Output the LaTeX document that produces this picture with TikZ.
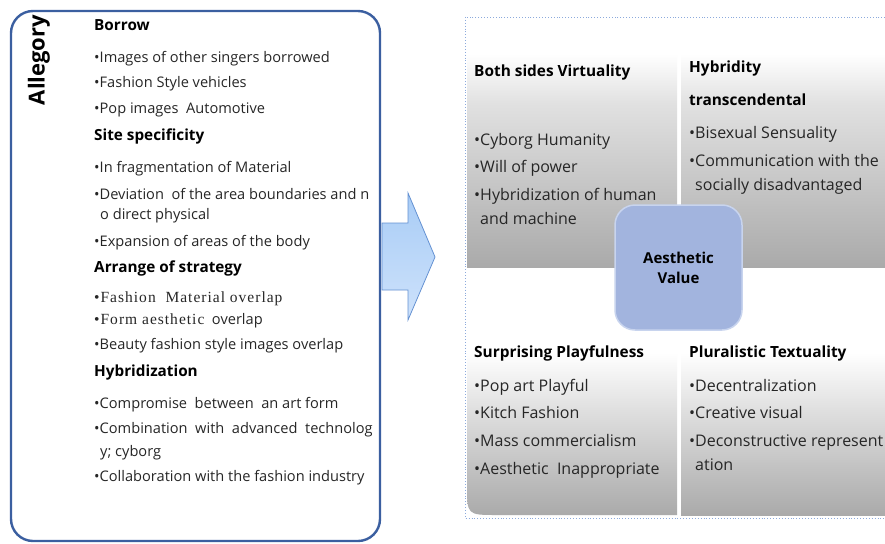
\documentclass[tikz,border=0pt]{standalone}
\usepackage{fontspec}
\setmainfont{Open Sans}
\newfontfamily\serifx[LetterSpace=6.5]{Liberation Serif}
\definecolor{boxblue}{RGB}{59,95,160}
\definecolor{arrowline}{RGB}{100,145,210}
\definecolor{arrowtop}{RGB}{168,204,246}
\definecolor{arrowbot}{RGB}{206,226,251}
\definecolor{dotblue}{RGB}{140,170,220}
\definecolor{centerfill}{RGB}{162,180,222}
\definecolor{centerline}{RGB}{200,212,238}
\definecolor{qdark}{RGB}{170,170,170}
\definecolor{qmid}{RGB}{225,225,225}
\pgfdeclareverticalshading{quadshade}{100bp}{color(0bp)=(qdark); color(25bp)=(qdark); color(58bp)=(qmid); color(68bp)=(white); color(100bp)=(white)}
\pgfdeclareverticalshading{quadshadeb}{100bp}{color(0bp)=(qdark); color(25bp)=(qdark); color(55bp)=(qmid); color(70bp)=(white); color(100bp)=(white)}
\newcommand\fsz[1]{\fontsize{#1}{#1}\selectfont}
\begin{document}
\begin{tikzpicture}[x=1pt,y=-1pt,
  lt/.style={anchor=base west, inner sep=0pt, font=\fsz{14.6}, text=black!85},
  lh/.style={anchor=base west, inner sep=0pt, font=\bfseries\fsz{15.3}},
  rt/.style={anchor=base west, inner sep=0pt, font=\fsz{16}, text=black!85},
  rh/.style={anchor=base west, inner sep=0pt, font=\bfseries\fsz{15.4}},
  quadtop/.style={shading=quadshade},
  quadbot/.style={shading=quadshadeb},
  bigarrow/.style={draw=arrowline, line width=0.8pt, top color=arrowtop, bottom color=arrowbot},
  leftbox/.style={draw=boxblue, line width=2.4pt, rounded corners=22pt, fill=white},
  centerbox/.style={draw=centerline, line width=1.5pt, fill=centerfill, rounded corners=20pt, minimum width=127pt, minimum height=125pt, inner sep=0pt, align=center, font=\bfseries\fsz{15}}
]
\useasboundingbox (0,0) rectangle (885,543);
\fill[white] (0,0) rectangle (885,543);

% arrow
\draw[bigarrow] (382,223) -- (408,223) -- (408,193) -- (435,257) -- (408,320) -- (408,290) -- (382,290) -- cycle;

% left box
\draw[leftbox] (11,11) rectangle (380,541);
\node[rotate=90, inner sep=0pt, font=\bfseries\fsz{22}] (allegory) at (39,60) {Allegory};

\node[lh] (h1) at (94,31) {Borrow};
\node[lt] (a1) at (94,63) {•Images of other singers borrowed};
\node[lt] (a2) at (94,87) {•Fashion Style vehicles};
\node[lt] (a3) at (94,113) {•Pop images\ \ Automotive};
\node[lh] (h2) at (94,140) {Site specificity};
\node[lt] (b1) at (94,172) {•In fragmentation of Material};
\node[lt] (b2) at (94,199) {•Deviation\ \ of the area boundaries and n};
\node[lt] (b3) at (100,219) {o direct physical};
\node[lt] (b4) at (94,246) {•Expansion of areas of the body};
\node[lh] (h3) at (94,272) {Arrange of strategy};
\node[lt, font=\serifx\fsz{15.5}] (c1) at (94,302) {•Fashion\ \ Material overlap};
\node[lt] (c2) at (94,324) {{\serifx\fsz{15.5}•Form aesthetic}\ \ overlap};
\node[lt] (c3) at (94,349) {•Beauty fashion style images overlap};
\node[lh] (h4) at (94,376) {Hybridization};
\node[lt] (d1) at (94,408) {•Compromise\ \ between\ \ an art form};
\node[lt] (d2) at (94,433) {•Combination\ \ with\ \ advanced\ \ technolog};
\node[lt] (d3) at (100,456) {y; cyborg};
\node[lt] (d4) at (94,481) {•Collaboration with the fashion industry};

% right panel
\draw[dotblue, dotted, line width=0.9pt] (465,17) rectangle (886,518);
\path[quadtop] (467,19) rectangle (677,267);
\path[quadtop] (681,19) rectangle (886,267);
\path[quadbot] (677,335) -- (677,515) -- (497,515) .. controls (467,515) .. (467,485) -- (467,335) -- cycle;
\path[quadbot] (681,335) -- (886,335) -- (886,515) -- (681,515) -- cycle;

\node[rh] (q1h) at (474,77) {Both sides Virtuality};
\node[rt] (q1a) at (474,145) {•Cyborg Humanity};
\node[rt] (q1b) at (474,172) {•Will of power};
\node[rt] (q1c) at (474,200) {•Hybridization of human};
\node[rt] (q1d) at (480,224) {and machine};

\node[rh] (q2h) at (689,72) {Hybridity};
\node[rh] (q2i) at (689,105) {transcendental};
\node[rt] (q2a) at (689,138) {•Bisexual Sensuality};
\node[rt] (q2b) at (689,166) {•Communication with the};
\node[rt] (q2c) at (695,190) {socially disadvantaged};

\node[rh] (q3h) at (474,357) {Surprising Playfulness};
\node[rt] (q3a) at (474,391) {•Pop art Playful};
\node[rt] (q3b) at (474,418) {•Kitch Fashion};
\node[rt] (q3c) at (474,446) {•Mass commercialism};
\node[rt] (q3d) at (474,474) {•Aesthetic\ \ Inappropriate};

\node[rh] (q4h) at (689,357) {Pluralistic Textuality};
\node[rt] (q4a) at (689,391) {•Decentralization};
\node[rt] (q4b) at (689,418) {•Creative visual};
\node[rt] (q4c) at (689,446) {•Deconstructive represent};
\node[rt] (q4d) at (695,470) {ation};

\node[centerbox] (center) at (678.5,267.5) {Aesthetic\\[5pt]Value};
\end{tikzpicture}
\end{document}
